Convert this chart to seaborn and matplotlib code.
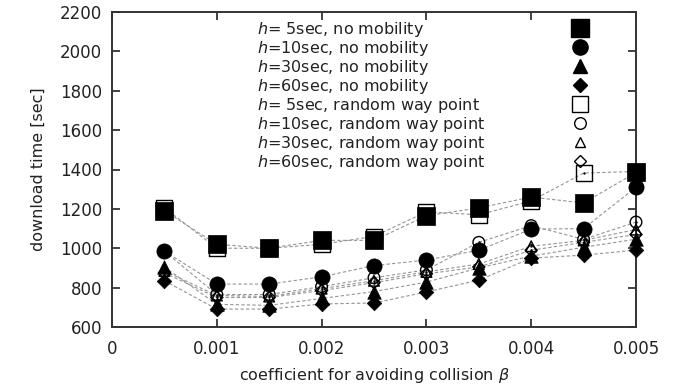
import matplotlib
matplotlib.use("Agg")
import matplotlib.pyplot as plt
from matplotlib.lines import Line2D
import seaborn as sns
import pandas as pd

# ---- data ----
beta = [0.0005, 0.001, 0.0015, 0.002, 0.0025, 0.003, 0.0035, 0.004, 0.0045, 0.005]
h5_nomob = [1190, 1020, 1000, 1040, 1040, 1165, 1205, 1260, 1230, 1385]
h10_nomob = [985, 818, 818, 855, 912, 940, 990, 1097, 1100, 1310]
h30_nomob = [905, 715, 710, 745, 780, 828, 900, 960, 1005, 1046]
h60_nomob = [835, 691, 691, 717, 722, 778, 838, 950, 965, 991]
h5_rwp = [1205, 1000, 1000, 1020, 1060, 1185, 1170, 1240, 1382, 1390]
h10_rwp = [985, 765, 765, 805, 850, 890, 1030, 1115, 1045, 1133]
h30_rwp = [885, 760, 755, 795, 835, 880, 920, 1010, 1040, 1095]
h60_rwp = [875, 750, 750, 785, 825, 870, 905, 990, 1030, 1070]

labels = [
    "$h$= 5sec, no mobility",
    "$h$=10sec, no mobility",
    "$h$=30sec, no mobility",
    "$h$=60sec, no mobility",
    "$h$= 5sec, random way point",
    "$h$=10sec, random way point",
    "$h$=30sec, random way point",
    "$h$=60sec, random way point",
]
series = [h5_nomob, h10_nomob, h30_nomob, h60_nomob, h5_rwp, h10_rwp, h30_rwp, h60_rwp]
xticks = [0, 0.001, 0.002, 0.003, 0.004, 0.005]
xticklabels = ["0", "0.001", "0.002", "0.003", "0.004", "0.005"]
yticks = [600, 800, 1000, 1200, 1400, 1600, 1800, 2000, 2200]

# ---- style ----
markers = ["s", "o", "^", "D", "s", "o", "^", "D"]
sizes = [150, 120, 95, 55, 130, 70, 60, 38]
filled = [True, True, True, True, False, False, False, False]

sns.set_style("ticks")
plt.rcParams["font.family"] = ["DejaVu Sans"]
plt.rcParams["mathtext.fontset"] = "dejavusans"

fig = plt.figure(figsize=(6.73, 3.87), dpi=100)
ax = fig.add_axes([112 / 673, 1 - 327 / 387, (636 - 112) / 673, (327 - 12) / 387])

rows = []
for lab, vals in zip(labels, series):
    for b, v in zip(beta, vals):
        rows.append({"beta": b, "time": v, "series": lab})
df = pd.DataFrame(rows)

sns.lineplot(data=df, x="beta", y="time", hue="series", style="series",
             palette=["#959595"] * 8, dashes=[(3, 2)] * 8, linewidth=0.8,
             legend=False, ax=ax, zorder=1)

for lab, vals, m, s, f in zip(labels, series, markers, sizes, filled):
    if f:
        sns.scatterplot(x=beta, y=vals, marker=m, s=s, color="black",
                        edgecolor="black", linewidth=0.5, ax=ax, zorder=3,
                        clip_on=False)
    else:
        sns.scatterplot(x=beta, y=vals, marker=m, s=s, color="black",
                        facecolor="none", edgecolor="black", linewidth=1.0,
                        ax=ax, zorder=4, clip_on=False)
        sns.scatterplot(x=beta, y=vals, marker="o", s=3, color="black",
                        edgecolor="black", linewidth=0, ax=ax, zorder=4,
                        clip_on=False)

ax.set_xlim(0, 0.005)
ax.set_ylim(600, 2200)
ax.set_xticks(xticks)
ax.set_xticklabels(xticklabels)
ax.set_yticks(yticks)
ax.tick_params(direction="in", top=True, right=True, length=6, width=1.2,
               labelsize=12, colors="#222222", pad=7)
ax.tick_params(axis="x", pad=9)
for sp in ax.spines.values():
    sp.set_linewidth(1.4)
    sp.set_color("#333333")

ax.set_xlabel(r"coefficient for avoiding collision $\beta$", fontsize=11.5,
              color="#222222", labelpad=6)
ax.set_ylabel("download time [sec]", fontsize=11.5, color="#222222", labelpad=10)

# ---- legend: text left, markers on the right ----
handles = []
for m, s, f in zip(markers, sizes, filled):
    ms = s ** 0.5
    if f:
        handles.append(Line2D([], [], marker=m, markersize=ms, linestyle="none",
                              markerfacecolor="black", markeredgecolor="black"))
    else:
        handles.append(Line2D([], [], marker=m, markersize=ms, linestyle="none",
                              markerfacecolor="none", markeredgecolor="black",
                              markeredgewidth=1.0))
leg = ax.legend(handles, labels, loc="upper left",
                bbox_to_anchor=((257 - 112) / 524, 1 - (20 - 12) / 315),
                frameon=False, markerfirst=False, fontsize=11.5,
                labelspacing=0.0, borderpad=0, handletextpad=0.5,
                handlelength=1.5, handleheight=0.7, borderaxespad=0)
for t in leg.get_texts():
    t.set_color("#222222")
# make text left aligned and markers right aligned in each row
for col in leg._legend_handle_box.get_children():
    col.align = "left"
    for row in col.get_children():
        row.mode = "expand"
        row.width = 335

fig.savefig("out.png", dpi=100)
